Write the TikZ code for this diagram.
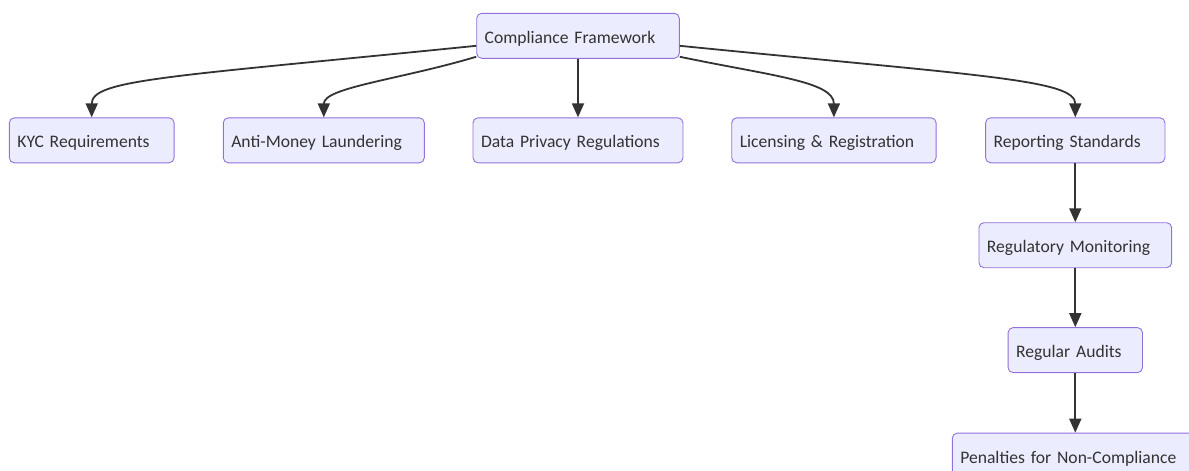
\documentclass[tikz,border=0pt]{standalone}
\usepackage{fontspec}
\setmainfont{Carlito}
\usepackage{xcolor}
\usepackage{tikz}
\usetikzlibrary{positioning,arrows.meta}

\definecolor{boxfill}{HTML}{ECECFF}
\definecolor{boxline}{HTML}{9370DB}
\definecolor{inkgray}{HTML}{333333}

\begin{document}
\begin{tikzpicture}[
  x=1pt, y=-1pt,
  blk/.style={draw=boxline, fill=boxfill, line width=0.9pt, rounded corners=5pt,
              minimum height=45pt, inner xsep=8pt, inner ysep=0pt, align=left,
              text height=15pt, text depth=0pt,
              text=inkgray, font=\fontsize{17.6}{20}\selectfont},
  arr/.style={-{Triangle[length=14pt,width=12pt]}, line width=1.8pt, draw=inkgray},
]
  \path[use as bounding box, fill=white] (0,0) rectangle (1189,471);

  \node[blk, text width=186.6pt] (cf) at (578,35.8) {Compliance Framework};
  \node[blk, text width=148.7pt] (kyc) at (91.7,140.3) {KYC Requirements};
  \node[blk, text width=185pt] (aml) at (323.8,140.3) {Anti-Money Laundering};
  \node[blk, text width=194pt] (dpr) at (578,140.3) {Data Privacy Regulations};
  \node[blk, text width=188.3pt] (lr) at (833.9,140.3) {Licensing \& Registration};
  \node[blk, text width=163.3pt] (rs) at (1075.3,140.3) {Reporting Standards};
  \node[blk, text width=176.7pt, below=59pt of rs] (rm) {Regulatory Monitoring};
  \node[blk, text width=118.4pt, below=59pt of rm] (ra) {Regular Audits};
  \node[blk, text width=230pt, below=59.6pt of ra] (pen) {Penalties for Non-Compliance};

  \draw[arr] ([yshift=-10pt]cf.west) .. controls +(-307,31) and +(0,-38) .. (kyc.north);
  \draw[arr] ([yshift=2pt]cf.south west) .. controls +(-77,23) and +(0,-30) .. (aml.north);
  \draw[arr] (cf) -- (dpr);
  \draw[arr] ([yshift=2pt]cf.south east) .. controls +(91,19) and +(0,-36) .. (lr.north);
  \draw[arr] ([yshift=-10pt]cf.east) .. controls +(300,30) and +(0,-38) .. (rs.north);

  \draw[arr] (rs) -- (rm);
  \draw[arr] (rm) -- (ra);
  \draw[arr] (ra) -- (pen);
\end{tikzpicture}
\end{document}
